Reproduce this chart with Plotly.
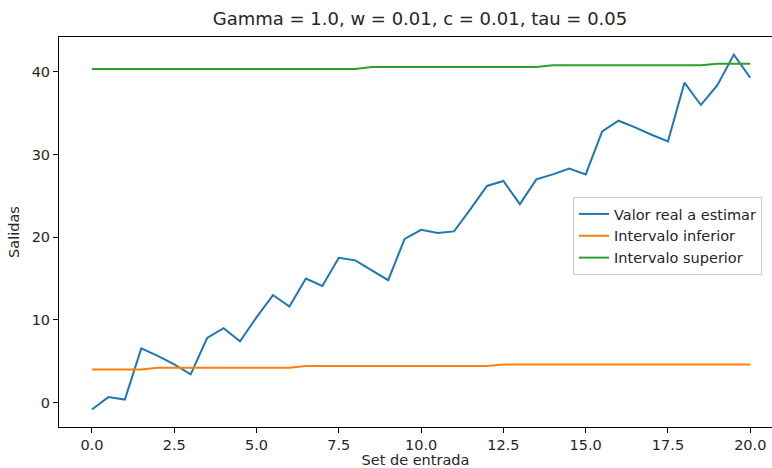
import plotly.graph_objects as go

x_vals = [i * 0.5 for i in range(41)]
valor_real = [-0.85, 0.65, 0.35, 6.55, 5.65, 4.6, 3.4, 7.8, 9.0, 7.4,
              10.3, 13.0, 11.6, 15.0, 14.1, 17.5, 17.2, 16.0, 14.8, 19.8,
              20.9, 20.5, 20.7, 23.4, 26.2, 26.8, 24.0, 27.0, 27.6, 28.3,
              27.6, 32.8, 34.1, 33.3, 32.4, 31.6, 38.7, 36.0, 38.4, 42.1, 39.3]
intervalo_inferior = [4.0] * 4 + [4.2] * 9 + [4.4] * 12 + [4.6] * 16
intervalo_superior = [40.35] * 17 + [40.6] * 11 + [40.8] * 10 + [41.0] * 3

FONT = "DejaVu Sans"
FS = 14.5

fig = go.Figure()
fig.add_trace(go.Scatter(x=x_vals, y=valor_real, mode="lines", name="Valor real a estimar",
                         line=dict(color="#1f77b4", width=2)))
fig.add_trace(go.Scatter(x=x_vals, y=intervalo_inferior, mode="lines", name="Intervalo inferior",
                         line=dict(color="#ff7f0e", width=2)))
fig.add_trace(go.Scatter(x=x_vals, y=intervalo_superior, mode="lines", name="Intervalo superior",
                         line=dict(color="#2ca02c", width=2)))

fig.update_layout(
    width=772, height=468,
    margin=dict(l=59, r=0, t=37, b=41, autoexpand=False),
    paper_bgcolor="white", plot_bgcolor="white",
    font=dict(family=FONT, size=FS, color="#262626"),
    title=dict(text="Gamma = 1.0, w = 0.01, c = 0.01, tau = 0.05",
               x=420 / 772, xref="container", xanchor="center",
               y=1 - 19 / 468, yref="container", yanchor="middle",
               font=dict(family=FONT, size=18, color="#262626")),
    showlegend=True,
    legend=dict(x=(573 - 59) / 713, y=(427 - 197) / 390, xanchor="left", yanchor="top",
                bgcolor="rgba(255,255,255,0.8)", bordercolor="#cccccc", borderwidth=1,
                font=dict(family=FONT, size=FS, color="#262626"),
                itemwidth=30, tracegroupgap=0),
    xaxis=dict(range=[-1, 20.66], tickvals=[0, 2.5, 5, 7.5, 10, 12.5, 15, 17.5, 20],
               ticktext=["0.0", "2.5", "5.0", "7.5", "10.0", "12.5", "15.0", "17.5", "20.0"],
               showgrid=False, zeroline=False, showline=True, linecolor="black", linewidth=1,
               mirror=True, ticks="outside", ticklen=5, tickcolor="black", automargin=False,
               tickfont=dict(size=FS),
               title=dict(text="Set de entrada", standoff=7, font=dict(family=FONT, size=FS))),
    yaxis=dict(range=[-2.97, 44.23], tickvals=[0, 10, 20, 30, 40],
               showgrid=False, zeroline=False, showline=True, linecolor="black", linewidth=1,
               mirror=True, ticks="outside", ticklen=5, tickcolor="black", automargin=False,
               tickfont=dict(size=FS),
               title=dict(text="Salidas", standoff=8, font=dict(family=FONT, size=FS))),
)

fig.write_html("out.html", config={"displayModeBar": False},
               post_script="document.body.style.margin='0';document.body.style.overflow='hidden';")
